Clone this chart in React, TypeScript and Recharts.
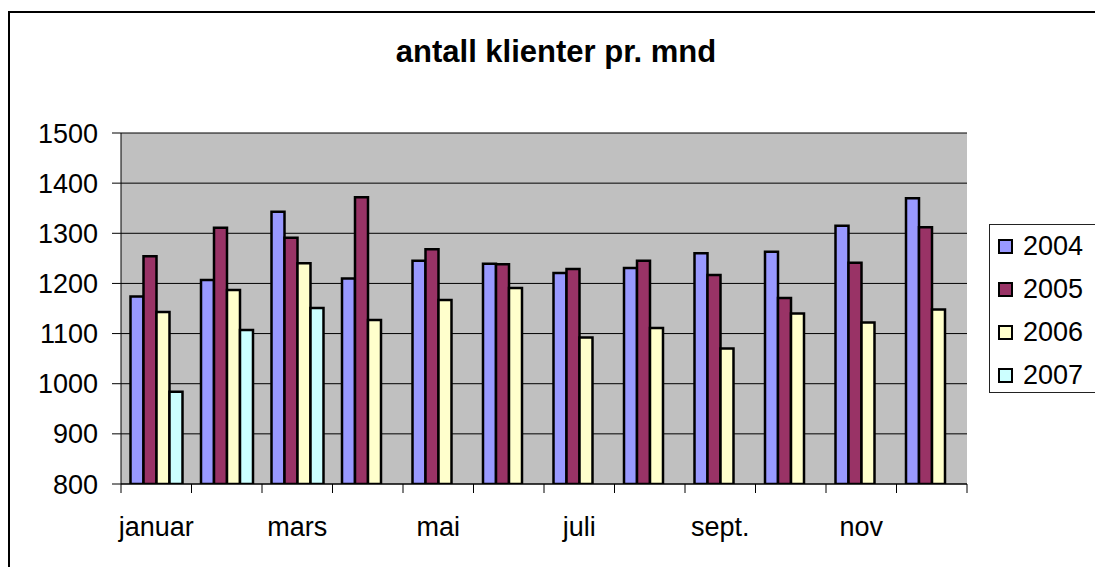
import React from "react";
import { BarChart, Bar, XAxis, YAxis, CartesianGrid } from "recharts";

const months = ["januar", "februar", "mars", "april", "mai", "juni", "juli", "august", "sept.", "okt.", "nov", "des."];
const v2004 = [1174, 1207, 1343, 1210, 1245, 1239, 1221, 1231, 1260, 1263, 1315, 1370];
const v2005 = [1254, 1311, 1291, 1372, 1268, 1238, 1229, 1245, 1217, 1171, 1241, 1312];
const v2006 = [1143, 1187, 1240, 1127, 1167, 1191, 1092, 1111, 1070, 1140, 1122, 1148];
const v2007 = [984, 1107, 1151, null, null, null, null, null, null, null, null, null];
const yTicks = [800, 900, 1000, 1100, 1200, 1300, 1400, 1500];

const series = [
  { key: "2004", values: v2004, color: "#9999FF" },
  { key: "2005", values: v2005, color: "#993366" },
  { key: "2006", values: v2006, color: "#FFFFCC" },
  { key: "2007", values: v2007, color: "#CCFFFF" },
];

const data = months.map((m, i) => {
  const row: any = { month: m };
  series.forEach((s) => {
    row[s.key] = s.values[i];
  });
  return row;
});

const FONT = "'Liberation Sans', Arial, sans-serif";
const CHART_W = 1087;
const CHART_H = 551;
const MARGIN = { top: 125, right: 128, bottom: 15, left: 0 };
const Y_W = 113;
const X_H = 60;
const BAND = (CHART_W - MARGIN.left - MARGIN.right - Y_W) / months.length;

const XTick = (props: any) => {
  const { x, y, payload, index } = props;
  const half = BAND / 2;
  return (
    <g>
      <line x1={x - half} x2={x - half} y1={y} y2={y + 9} stroke="#000" strokeWidth={1} />
      {index === months.length - 1 && (
        <line x1={x + half} x2={x + half} y1={y} y2={y + 9} stroke="#000" strokeWidth={1} />
      )}
      {index % 2 === 0 && (
        <text x={x} y={y + 52} textAnchor="middle" fontSize={27} fontFamily={FONT} fill="#000">
          {payload.value}
        </text>
      )}
    </g>
  );
};

export default function App() {
  return (
    <div style={{ width: 1095, height: 567, overflow: "hidden", position: "relative" }}>
      <style>{"html,body{margin:0;padding:0;overflow:hidden}"}</style>
      <div style={{ position: "absolute", left: 8, top: 8, width: CHART_W, height: CHART_H, fontFamily: FONT }}>
        <div
          style={{
            position: "absolute",
            left: 0,
            top: 3,
            width: 1120,
            height: 600,
            borderTop: "2px solid #000",
            borderLeft: "2px solid #000",
            boxSizing: "border-box",
          }}
        />
        <div
          style={{
            position: "absolute",
            left: 248,
            top: 28,
            width: 600,
            textAlign: "center",
            fontSize: 31,
            lineHeight: "31px",
            fontWeight: "bold",
            color: "#000",
          }}
        >
          antall klienter pr. mnd
        </div>
        <div style={{ position: "absolute", left: 0, top: 0 }}>
          <BarChart width={CHART_W} height={CHART_H} data={data} margin={MARGIN} barCategoryGap={9.5} barGap={0}>
            <CartesianGrid vertical={false} fill="#C0C0C0" fillOpacity={1} stroke="#000" strokeWidth={1} />
            <XAxis
              dataKey="month"
              interval={0}
              height={X_H}
              tickLine={false}
              tickSize={0}
              tickMargin={0}
              axisLine={{ stroke: "#000", strokeWidth: 1 }}
              tick={<XTick />}
            />
            <YAxis
              width={Y_W}
              domain={[800, 1500]}
              ticks={yTicks}
              allowDataOverflow
              tickSize={9}
              tickMargin={14}
              tickLine={{ stroke: "#000" }}
              axisLine={{ stroke: "#000", strokeWidth: 1 }}
              tick={{ fill: "#000", fontSize: 27, fontFamily: FONT }}
            />
            {series.map((s) => (
              <Bar key={s.key} dataKey={s.key} fill={s.color} stroke="#000" strokeWidth={2.5} isAnimationActive={false} />
            ))}
          </BarChart>
        </div>
        <div
          style={{
            position: "absolute",
            left: 981,
            top: 216,
            width: 130,
            height: 169,
            border: "1.5px solid #222",
            boxSizing: "border-box",
            background: "#fff",
          }}
        >
          {series.map((s) => (
            <div key={s.key} style={{ display: "flex", alignItems: "center", height: 43, paddingLeft: 8 }}>
              <div
                style={{
                  width: 15,
                  height: 15,
                  background: s.color,
                  border: "2px solid #000",
                  boxSizing: "border-box",
                  marginRight: 10,
                }}
              />
              <span style={{ fontSize: 27, lineHeight: "43px", color: "#000" }}>{s.key}</span>
            </div>
          ))}
        </div>
      </div>
    </div>
  );
}
